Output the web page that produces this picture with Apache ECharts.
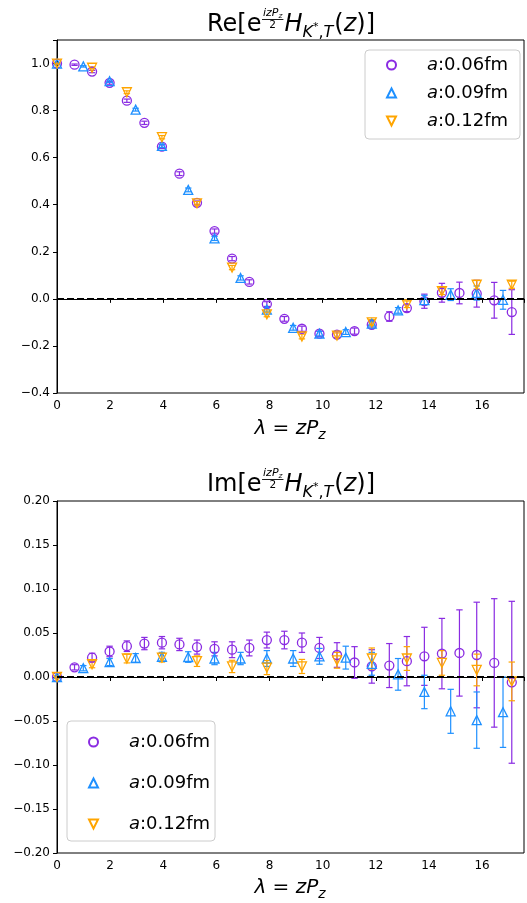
<!DOCTYPE html>
<html><head><meta charset="utf-8">
<script src="https://cdn.jsdelivr.net/npm/echarts@6/dist/echarts.min.js"></script>
<style>html,body{margin:0;padding:0;background:#fff}#c{width:527px;height:903px}</style>
</head><body><div id="c"></div>
<script>
// ---------- data ----------
const names = ['a:0.06fm', 'a:0.09fm', 'a:0.12fm'];
const xTicks = [0, 2, 4, 6, 8, 10, 12, 14, 16];

const lam06 = [0, 0.66, 1.32, 1.98, 2.63, 3.29, 3.95, 4.61, 5.27, 5.93, 6.59, 7.24, 7.90, 8.56, 9.22, 9.88, 10.54, 11.20, 11.85, 12.51, 13.17, 13.83, 14.49, 15.15, 15.80, 16.46, 17.12];
const lam09 = [0, 0.99, 1.98, 2.96, 3.95, 4.94, 5.93, 6.91, 7.90, 8.89, 9.88, 10.87, 11.85, 12.84, 13.83, 14.82, 15.80, 16.79];
const lam12 = [0, 1.32, 2.63, 3.95, 5.27, 6.59, 7.90, 9.22, 10.54, 11.85, 13.17, 14.49, 15.80, 17.12];

const re06 = [1.000, 0.995, 0.966, 0.918, 0.842, 0.748, 0.647, 0.532, 0.408, 0.288, 0.171, 0.072, -0.022, -0.085, -0.127, -0.148, -0.152, -0.137, -0.110, -0.075, -0.039, -0.010, 0.026, 0.025, 0.022, -0.006, -0.056];
const reErr06 = [0.002, 0.003, 0.005, 0.006, 0.007, 0.007, 0.008, 0.008, 0.008, 0.009, 0.009, 0.009, 0.010, 0.010, 0.011, 0.011, 0.012, 0.013, 0.014, 0.020, 0.015, 0.030, 0.040, 0.046, 0.057, 0.076, 0.095];
const re09 = [1.000, 0.988, 0.925, 0.804, 0.650, 0.463, 0.257, 0.089, -0.046, -0.123, -0.148, -0.141, -0.105, -0.049, -0.005, 0.018, 0.025, -0.004];
const reErr09 = [0.002, 0.003, 0.005, 0.006, 0.007, 0.008, 0.009, 0.009, 0.010, 0.010, 0.010, 0.010, 0.011, 0.012, 0.020, 0.025, 0.030, 0.040];
const re12 = [1.000, 0.982, 0.878, 0.687, 0.406, 0.133, -0.066, -0.160, -0.156, -0.100, -0.023, 0.033, 0.060, 0.060];
const reErr12 = [0.002, 0.004, 0.006, 0.007, 0.008, 0.009, 0.010, 0.010, 0.011, 0.012, 0.014, 0.015, 0.018, 0.015];

const im06 = [0.000, 0.011, 0.022, 0.029, 0.035, 0.038, 0.039, 0.037, 0.034, 0.032, 0.031, 0.033, 0.042, 0.042, 0.039, 0.033, 0.025, 0.0165, 0.012, 0.013, 0.018, 0.0235, 0.0266, 0.0273, 0.025, 0.016, -0.006];
const imErr06 = [0.001, 0.003, 0.005, 0.006, 0.006, 0.007, 0.007, 0.007, 0.008, 0.008, 0.009, 0.009, 0.009, 0.010, 0.011, 0.012, 0.014, 0.018, 0.019, 0.025, 0.028, 0.033, 0.040, 0.049, 0.060, 0.073, 0.092];
const im09 = [0.000, 0.010, 0.017, 0.0216, 0.023, 0.0227, 0.021, 0.021, 0.021, 0.021, 0.0235, 0.022, 0.015, 0.003, -0.017, -0.039, -0.049, -0.040];
const imErr09 = [0.001, 0.003, 0.004, 0.005, 0.005, 0.006, 0.007, 0.007, 0.009, 0.009, 0.009, 0.013, 0.013, 0.018, 0.019, 0.025, 0.032, 0.040];
const im12 = [0.000, 0.0145, 0.021, 0.022, 0.018, 0.012, 0.0107, 0.012, 0.019, 0.021, 0.021, 0.016, 0.008, -0.005];
const imErr12 = [0.001, 0.004, 0.005, 0.005, 0.006, 0.007, 0.008, 0.008, 0.009, 0.012, 0.0135, 0.014, 0.018, 0.022];

// ---------- styling ----------
const colors = ['#8A2BE2', '#1E90FF', '#FFA500'];
const symbols = ['circle', 'path://M5,0L10,10L0,10Z', 'path://M0,0L10,0L5,10Z'];
const FONT = '"DejaVu Sans", sans-serif';

const chart = echarts.init(document.getElementById('c'), null, {renderer: 'canvas'});

// measure helper for math-like titles
const mctx = document.createElement('canvas').getContext('2d');
function tw(t, s, it) { mctx.font = (it ? 'italic ' : '') + s + 'px "DejaVu Sans"'; return mctx.measureText(t).width; }
function mkText(t, x, base, s, it) {
  return {type: 'text', x: x, y: base - 0.35 * s, silent: true,
    style: {text: t, fill: '#000', font: (it ? 'italic ' : '') + s + 'px ' + FONT, textVerticalAlign: 'middle', textAlign: 'left'}};
}
function mathLine(tokens, cx, base) {
  let total = 0;
  tokens.forEach(tk => {
    if (tk.frac) {
      tk.nw = tk.num.reduce((a, p) => a + tw(p.t, p.s, p.it), 0);
      tk.dw = tk.den.reduce((a, p) => a + tw(p.t, p.s, p.it), 0);
      tk.w = Math.max(tk.nw, tk.dw) + 2;
    } else tk.w = tw(tk.t, tk.s, tk.it);
    total += tk.w + (tk.gap || 0);
  });
  let x = cx - total / 2;
  const els = [];
  tokens.forEach(tk => {
    x += (tk.gap || 0);
    if (tk.frac) {
      const by = base + tk.barDy;
      els.push({type: 'line', silent: true, shape: {x1: x, y1: by, x2: x + tk.w, y2: by}, style: {stroke: '#000', lineWidth: 0.9}});
      let nx = x + (tk.w - tk.nw) / 2;
      tk.num.forEach(p => { els.push(mkText(p.t, nx, by - 2.5 + (p.dy || 0), p.s, p.it)); nx += tw(p.t, p.s, p.it); });
      let dx = x + (tk.w - tk.dw) / 2;
      tk.den.forEach(p => { els.push(mkText(p.t, dx, by + 2 + 0.73 * p.s + (p.dy || 0), p.s, p.it)); dx += tw(p.t, p.s, p.it); });
    } else {
      els.push(mkText(tk.t, x, base + (tk.dy || 0), tk.s, tk.it));
    }
    x += tk.w;
  });
  return els;
}
function titleTokens(prefix) {
  return [
    {t: prefix + '[e', s: 24},
    {frac: true, barDy: -13.5, num: [{t: 'izP', s: 11, it: true}, {t: 'z', s: 7.5, it: true, dy: 2}], den: [{t: '2', s: 10.5}], gap: 0.5},
    {t: 'H', s: 24, it: true, gap: 1},
    {t: 'K', s: 16, it: true, dy: 5},
    {t: '*', s: 11, dy: -2},
    {t: ',', s: 16, dy: 5},
    {t: 'T', s: 16, it: true, dy: 5},
    {t: '(', s: 24, gap: 1}, {t: 'z', s: 24, it: true}, {t: ')]', s: 24}
  ];
}
function xlabTokens() {
  return [{t: 'λ', s: 20, it: true}, {t: ' = ', s: 20}, {t: 'zP', s: 20, it: true}, {t: 'z', s: 14, it: true, dy: 4}];
}

const grids = [
  {left: 57, top: 40, width: 472, height: 353, show: true, borderColor: '#000', borderWidth: 1, backgroundColor: '#fff'},
  {left: 57, top: 501, width: 472, height: 352, show: true, borderColor: '#000', borderWidth: 1, backgroundColor: '#fff'}
];
const xAxisBase = gi => ({
  type: 'value', gridIndex: gi, min: 0, max: 17.58, interval: 2,
  splitLine: {show: false},
  axisLine: {lineStyle: {color: '#000', width: 1}},
  axisTick: {length: 4, lineStyle: {color: '#000'}},
  axisLabel: {color: '#000', fontFamily: FONT, fontSize: 12, margin: 7,
    formatter: v => (xTicks.indexOf(Math.round(v * 1000) / 1000) >= 0 ? String(Math.round(v)) : '')}
});
const fmtY = (digits, maxv) => v => {
  if (Math.abs(v - maxv) < 1e-6) return '';
  const s = (Math.abs(v) < 1e-9 ? 0 : v).toFixed(digits);
  return s.replace('-', '\u2212');
};
const yAxes = [
  {type: 'value', gridIndex: 0, min: -0.4, max: 1.1, interval: 0.2, splitLine: {show: false},
    axisLine: {show: true, lineStyle: {color: '#000'}}, axisTick: {length: 4, lineStyle: {color: '#000'}},
    axisLabel: {color: '#000', fontFamily: FONT, fontSize: 12, margin: 7, formatter: fmtY(1, 1.1)}},
  {type: 'value', gridIndex: 1, min: -0.2, max: 0.2, interval: 0.05, splitLine: {show: false},
    axisLine: {show: true, lineStyle: {color: '#000'}}, axisTick: {length: 4, lineStyle: {color: '#000'}},
    axisLabel: {color: '#000', fontFamily: FONT, fontSize: 12, margin: 7, formatter: fmtY(2, 99)}}
];

function errSeries(xs, ys, es, color, gi, tag) {
  return {
    type: 'custom', name: tag, xAxisIndex: gi, yAxisIndex: gi, silent: true, z: 3,
    data: xs.map((x, i) => [x, ys[i], es[i]]),
    encode: {x: 0, y: 1},
    renderItem: (params, api) => {
      const x = api.value(0), y = api.value(1), e = api.value(2);
      const p1 = api.coord([x, y - e]), p2 = api.coord([x, y + e]);
      const c = 3.2, st = {stroke: color, lineWidth: 1.2};
      return {type: 'group', children: [
        {type: 'line', shape: {x1: p1[0], y1: p1[1], x2: p2[0], y2: p2[1]}, style: st},
        {type: 'line', shape: {x1: p1[0] - c, y1: p1[1], x2: p1[0] + c, y2: p1[1]}, style: st},
        {type: 'line', shape: {x1: p2[0] - c, y1: p2[1], x2: p2[0] + c, y2: p2[1]}, style: st}
      ]};
    }
  };
}
function ptSeries(xs, ys, k, gi) {
  return {
    type: 'scatter', name: names[k], xAxisIndex: gi, yAxisIndex: gi, z: 4,
    data: xs.map((x, i) => [x, ys[i]]),
    symbol: symbols[k], symbolSize: 9, symbolKeepAspect: true,
    itemStyle: {color: 'rgba(255,255,255,0)', borderColor: colors[k], borderWidth: 1.3, opacity: 1},
    emphasis: {disabled: true}
  };
}
const zeroLine = gi => ({
  type: 'line', name: 'zero' + gi, xAxisIndex: gi, yAxisIndex: gi, data: [], z: 5, silent: true,
  markLine: {silent: true, symbol: 'none', label: {show: false},
    lineStyle: {color: '#000', type: [7, 3], width: 2}, data: [{yAxis: 0}]}
});

const lams = [lam06, lam09, lam12];
const reV = [re06, re09, re12], reE = [reErr06, reErr09, reErr12];
const imV = [im06, im09, im12], imE = [imErr06, imErr09, imErr12];
const series = [zeroLine(0), zeroLine(1)];
for (let k = 0; k < 3; k++) {
  series.push(errSeries(lams[k], reV[k], reE[k], colors[k], 0, 'reErr' + k));
  series.push(ptSeries(lams[k], reV[k], k, 0));
  series.push(errSeries(lams[k], imV[k], imE[k], colors[k], 1, 'imErr' + k));
  series.push(ptSeries(lams[k], imV[k], k, 1));
}

const legendBase = (left, top, gap, pad) => ({
  data: names, orient: 'vertical', left: left, top: top, selectedMode: false,
  itemWidth: 9, itemHeight: 9, itemGap: gap,
  padding: pad,
  backgroundColor: 'rgba(255,255,255,0.8)', borderColor: '#cccccc', borderWidth: 1, borderRadius: 4,
  formatter: n => '{p|\u00a0}{i|a}{n|' + n.slice(1) + '}',
  textStyle: {color: '#000', fontFamily: FONT, fontSize: 18, lineHeight: 20,
    rich: {p: {width: 26, fontSize: 18}, i: {fontStyle: 'italic', fontSize: 18, fontFamily: FONT}, n: {fontSize: 18, fontFamily: FONT}}}
});

const graphics = []
  .concat(mathLine(titleTokens('Re'), 291, 33))
  .concat(mathLine(xlabTokens(), 290, 436))
  .concat(mathLine(titleTokens('Im'), 291, 493))
  .concat(mathLine(xlabTokens(), 290, 895));

chart.setOption({
  animation: false,
  backgroundColor: '#fff',
  grid: grids,
  xAxis: [xAxisBase(0), xAxisBase(1)],
  yAxis: yAxes,
  legend: [legendBase(365, 50, 8, [5, 12, 8, 21]), legendBase(67, 721, 21, [11, 5, 7, 21])],
  graphic: graphics,
  series: series
});
</script></body></html>
